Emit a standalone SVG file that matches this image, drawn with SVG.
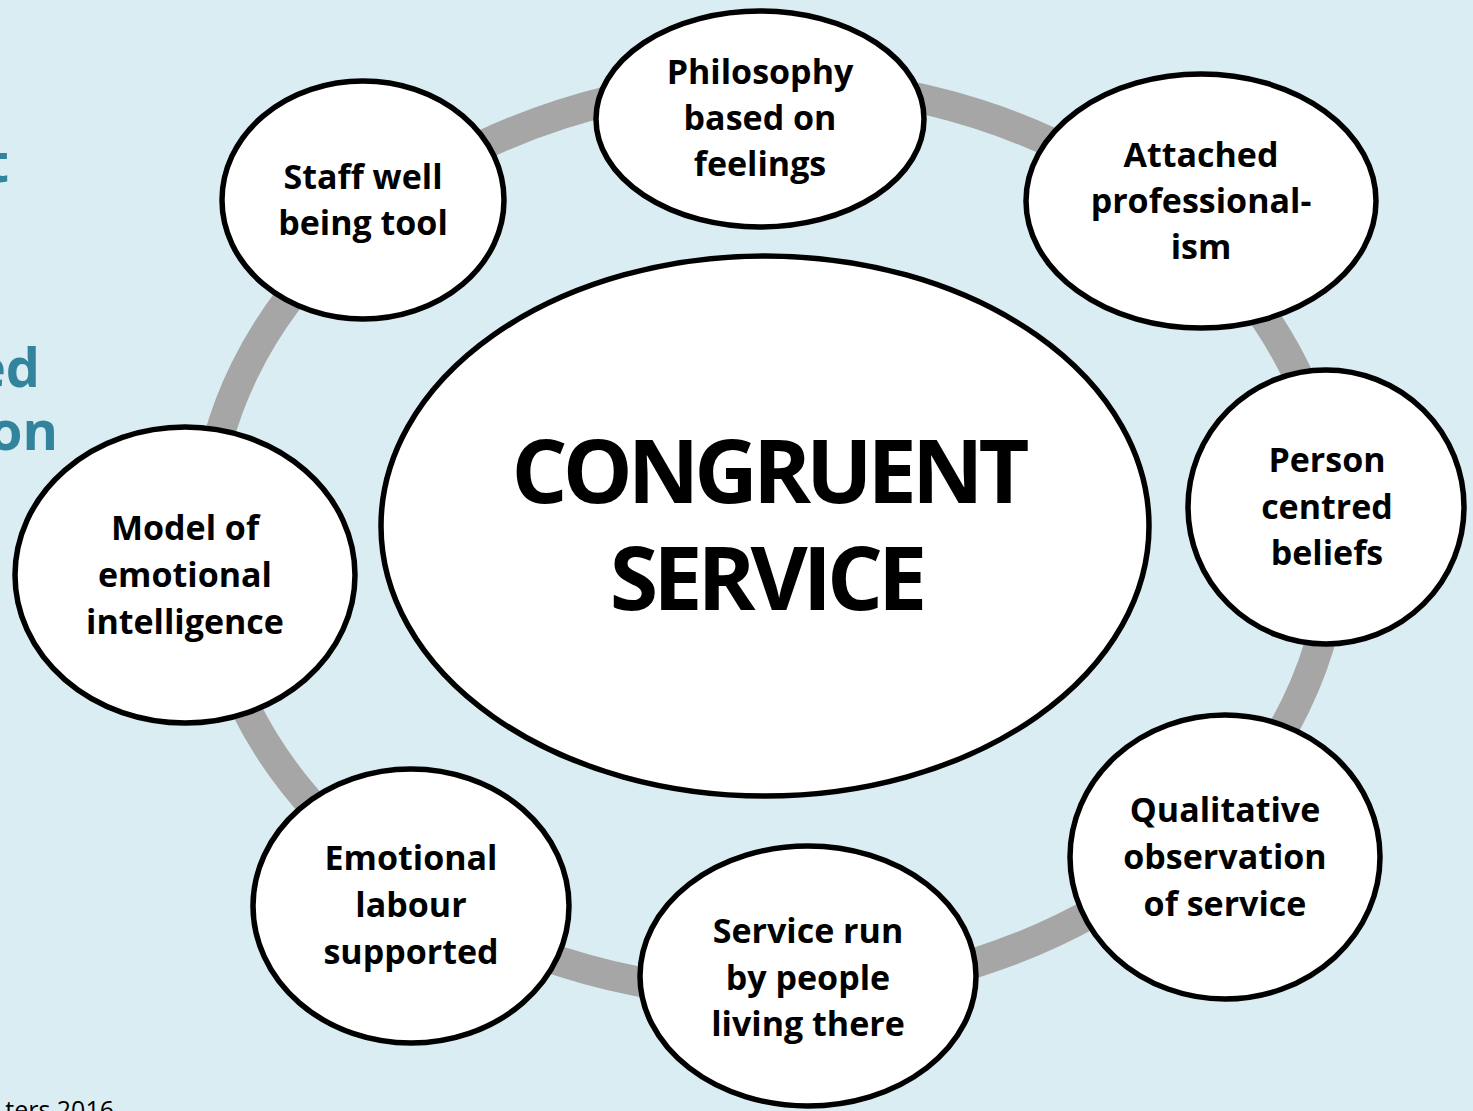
<svg xmlns="http://www.w3.org/2000/svg" width="1473" height="1111" viewBox="0 0 1473 1111">
<style>
.node{fill:#ffffff;stroke:#000000;stroke-width:5.5}
.lbl{font-family:"Open Sans","Liberation Sans",sans-serif;font-weight:700;font-size:34px;fill:#000000;text-anchor:middle}
.big{font-family:"Open Sans","Liberation Sans",sans-serif;font-weight:700;font-size:88px;fill:#000000;text-anchor:middle;letter-spacing:-5px}
.side{font-family:"Open Sans","Liberation Sans",sans-serif;font-weight:700;font-size:54px;fill:#31849B;text-anchor:end}
.foot{font-family:"Open Sans","Liberation Sans",sans-serif;font-size:25px;fill:#000000;text-anchor:end}
</style>
<rect x="0" y="0" width="1473" height="1111" fill="#DAEDF3"/>
<g id="side-text">
<text class="side" x="9" y="182">t</text>
<text class="side" x="40" y="387">ed</text>
<text class="side" x="58" y="450">on</text>
<text class="foot" x="114" y="1119">ters 2016</text>
</g>
<g id="connectors">
<ellipse cx="770" cy="538" rx="565" ry="456" fill="none" stroke="#A6A6A6" stroke-width="30"/>
</g>
<g id="center">
<ellipse class="node" cx="765" cy="526" rx="384" ry="270"/>
<text class="big" x="768" y="503">CONGRUENT</text>
<text class="big" x="766" y="610">SERVICE</text>
</g>
<g id="staff">
<ellipse class="node" cx="363" cy="200" rx="141" ry="119"/>
<text class="lbl" x="363" y="189">Staff well</text>
<text class="lbl" x="363" y="235">being tool</text>
</g>
<g id="philosophy">
<ellipse class="node" cx="760" cy="119" rx="164" ry="108"/>
<text class="lbl" x="760" y="84">Philosophy</text>
<text class="lbl" x="760" y="130">based on</text>
<text class="lbl" x="760" y="176">feelings</text>
</g>
<g id="attached">
<ellipse class="node" cx="1201" cy="201" rx="175" ry="127"/>
<text class="lbl" x="1201" y="167">Attached</text>
<text class="lbl" x="1201" y="213">professional-</text>
<text class="lbl" x="1201" y="259">ism</text>
</g>
<g id="person">
<ellipse class="node" cx="1326" cy="507" rx="138" ry="137"/>
<text class="lbl" x="1327" y="472">Person</text>
<text class="lbl" x="1327" y="519">centred</text>
<text class="lbl" x="1327" y="565">beliefs</text>
</g>
<g id="qualitative">
<ellipse class="node" cx="1225" cy="857" rx="155" ry="142"/>
<text class="lbl" x="1225" y="822">Qualitative</text>
<text class="lbl" x="1225" y="869">observation</text>
<text class="lbl" x="1225" y="916">of service</text>
</g>
<g id="service-run">
<ellipse class="node" cx="808" cy="976" rx="168" ry="130"/>
<text class="lbl" x="808" y="943">Service run</text>
<text class="lbl" x="808" y="990">by people</text>
<text class="lbl" x="808" y="1036">living there</text>
</g>
<g id="emotional-labour">
<ellipse class="node" cx="411" cy="906" rx="158" ry="137"/>
<text class="lbl" x="411" y="870">Emotional</text>
<text class="lbl" x="411" y="917">labour</text>
<text class="lbl" x="411" y="964">supported</text>
</g>
<g id="model">
<ellipse class="node" cx="185" cy="575" rx="170" ry="148"/>
<text class="lbl" x="185" y="540">Model of</text>
<text class="lbl" x="185" y="587">emotional</text>
<text class="lbl" x="185" y="634">intelligence</text>
</g>
</svg>
